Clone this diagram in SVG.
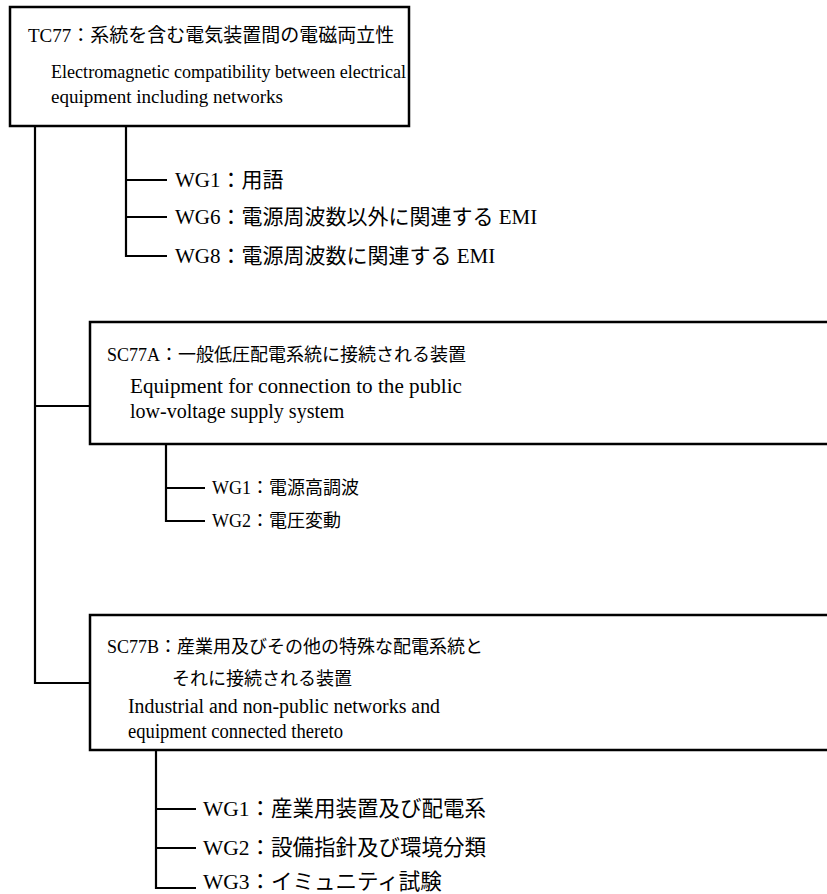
<svg xmlns="http://www.w3.org/2000/svg" width="827" height="894" viewBox="0 0 827 894">
<style>
.box{fill:#fff;stroke:#000;stroke-width:2.5}
.ln{fill:none;stroke:#000;stroke-width:2.2}
text{font-family:"Liberation Serif","Noto Sans CJK JP",serif;fill:#000}
.h{font-size:18px}
.h19{font-size:19px}
.en18{font-size:18px}
.en20{font-size:20px}
.wg21{font-size:21px}
.wg18{font-size:18px}
.wg22{font-size:21.5px}
</style>
<rect width="827" height="894" fill="#fff"/>
<g id="connectors">
<path class="ln" d="M35,126 V683 H90"/>
<path class="ln" d="M35,406 H90"/>
<path class="ln" d="M126,127 V256 H167 M126,180 H167 M126,217 H167"/>
<path class="ln" d="M166,444 V521 H205 M166,488 H205"/>
<path class="ln" d="M156,750 V888 H196 M156,809 H196 M156,848 H196"/>
</g>
<g id="tc77">
<rect class="box" x="10" y="7" width="399" height="119"/>
<text class="h19" x="28" y="42">TC77：系統を含む電気装置間の電磁両立性</text>
<text class="en18" x="51" y="78" textLength="355" lengthAdjust="spacingAndGlyphs">Electromagnetic compatibility between electrical</text>
<text class="en18" x="51" y="103" textLength="232" lengthAdjust="spacingAndGlyphs">equipment including networks</text>
</g>
<g id="tc77-wg">
<text class="wg21" x="175" y="187">WG1：用語</text>
<text class="wg21" x="175" y="224">WG6：電源周波数以外に関連する EMI</text>
<text class="wg21" x="175" y="263">WG8：電源周波数に関連する EMI</text>
</g>
<g id="sc77a">
<rect class="box" x="90" y="322" width="750" height="122"/>
<text class="h" x="107" y="361">SC77A：一般低圧配電系統に接続される装置</text>
<text class="en20" x="130" y="393" textLength="332" lengthAdjust="spacingAndGlyphs">Equipment for connection to the public</text>
<text class="en20" x="130" y="418">low-voltage supply system</text>
</g>
<g id="sc77a-wg">
<text class="wg18" x="212" y="494">WG1：電源高調波</text>
<text class="wg18" x="212" y="527">WG2：電圧変動</text>
</g>
<g id="sc77b">
<rect class="box" x="90" y="615" width="750" height="135"/>
<text class="h" x="107" y="653">SC77B：産業用及びその他の特殊な配電系統と</text>
<text class="h" x="172" y="685">それに接続される装置</text>
<text class="en20" x="128" y="713" textLength="312" lengthAdjust="spacingAndGlyphs">Industrial and non-public networks and</text>
<text class="en20" x="128" y="738" textLength="215" lengthAdjust="spacingAndGlyphs">equipment connected thereto</text>
</g>
<g id="sc77b-wg">
<text class="wg22" x="203" y="816">WG1：産業用装置及び配電系</text>
<text class="wg22" x="203" y="855">WG2：設備指針及び環境分類</text>
<text class="wg22" x="203" y="889">WG3：イミュニティ試験</text>
</g>
</svg>
